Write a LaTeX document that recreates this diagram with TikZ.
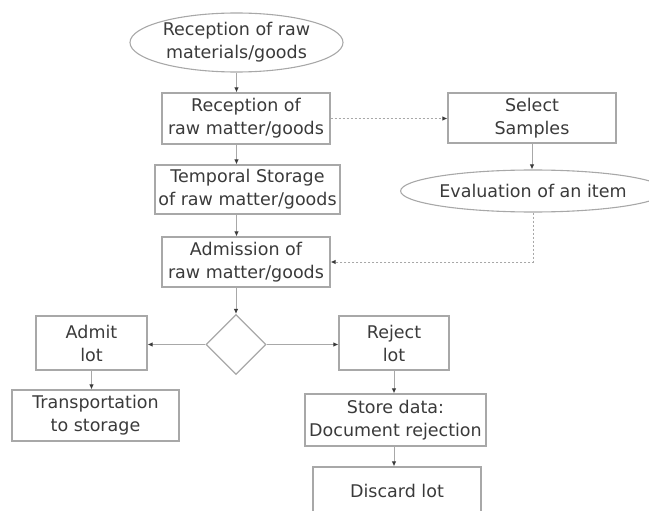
\documentclass[tikz,border=0pt]{standalone}
\usepackage{fontspec}
\setmainfont{DejaVu Sans}
\usepackage{xcolor}
\usetikzlibrary{shapes,arrows.meta,calc}
\definecolor{linegray}{HTML}{A8A8A8}
\definecolor{textgray}{HTML}{3A3A3A}

\begin{document}
\begin{tikzpicture}[x=1pt, y=-1pt, font=\fontsize{17.5}{23}\selectfont, text=textgray,
      procbox/.style={rectangle, draw=linegray, line width=1.2pt, align=center, inner sep=1pt},
      termnode/.style={ellipse, draw=linegray, line width=1.1pt, align=center, inner sep=0pt},
      decision/.style={diamond, draw=linegray, line width=1.2pt, minimum width=60pt, minimum height=60pt, inner sep=0pt},
      flow/.style={draw=linegray, line width=1pt, -{Latex[length=5pt, width=4.5pt, color=textgray]}},
      sampling/.style={flow, dash pattern=on 2pt off 2pt}]
      \useasboundingbox (0,0) rectangle (649,511);
      \clip (0,0) rectangle (649,511);
      \node[termnode, minimum width=213pt, minimum height=59pt](recvraw) at (236.5,42.5){Reception of raw\\materials/goods};
      \node[procbox, minimum width=168pt, minimum height=51pt](recvlot) at (246,118.5){Reception of\\raw matter/goods};
      \node[procbox, minimum width=185pt, minimum height=49pt](tempstore) at (247.5,189.5){Temporal Storage\\of raw matter/goods};
      \node[procbox, minimum width=168pt, minimum height=50pt](admission) at (246,262){Admission of\\raw matter/goods};
      \node[procbox, minimum width=168pt, minimum height=50pt](samples) at (532,118){Select\\Samples};
      \node[termnode, minimum width=230pt, minimum height=42pt](evalitem) at (533,191){Evaluation of an item};
      \node[decision](check) at (236,344.5){};
      \node[procbox, minimum width=111pt, minimum height=54pt](admitlot) at (91.5,343){Admit\\lot};
      \node[procbox, minimum width=167pt, minimum height=51pt](transport) at (95.5,415.5){Transportation\\to storage};
      \node[procbox, minimum width=110pt, minimum height=54pt](rejectlot) at (394,343){Reject\\lot};
      \node[procbox, minimum width=181pt, minimum height=52pt](storedata) at (395.5,420){Store data:\\Document rejection};
      \node[procbox, minimum width=168pt, minimum height=48pt](discard) at (397,491){Discard lot};
      \draw[flow] (recvraw.south) -- (recvlot.north -| recvraw.south);
      \draw[flow] (recvlot.south -| recvraw.south) -- (tempstore.north -| recvraw.south);
      \draw[flow] (tempstore.south -| recvraw.south) -- (admission.north -| recvraw.south);
      \draw[flow] (admission.south -| check.north) -- (check.north);
      \draw[flow] (check.west) -- (check.west -| admitlot.east);
      \draw[flow] (check.east) -- (check.east -| rejectlot.west);
      \draw[flow] (admitlot.south) -- (transport.north -| admitlot.south);
      \draw[flow] (rejectlot.south) -- (storedata.north -| rejectlot.south);
      \draw[flow] (storedata.south -| rejectlot.south) -- (discard.north -| rejectlot.south);
      \draw[sampling] (recvlot.east) -- (recvlot.east -| samples.west);
      \draw[flow] (samples.south) -- (evalitem.north -| samples.south);
      \draw[sampling] (evalitem.south) |- (admission.east);
    \end{tikzpicture}
\end{document}
